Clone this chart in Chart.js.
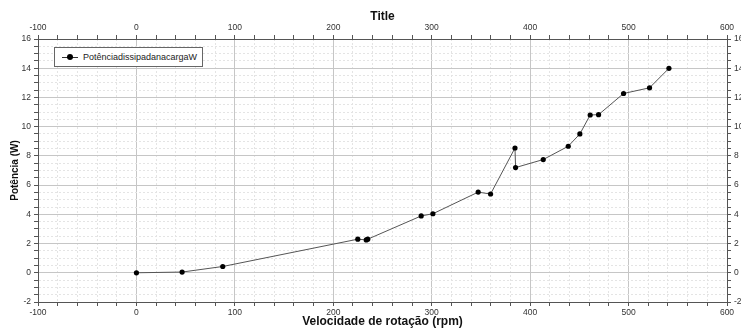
<!DOCTYPE html>
<html>
<head>
<meta charset="utf-8">
<script src="https://cdn.jsdelivr.net/npm/chart.js@4"></script>
<style>
  html, body { margin: 0; padding: 0; background: #fff; }
  #wrap { position: relative; width: 741px; height: 330px; }
  #legend {
    position: absolute; left: 54px; top: 47px; width: 147px; height: 18px;
    border: 1px solid #666; background: #fff;
    font: 9px "Liberation Sans", sans-serif; color: #222;
    display: flex; align-items: center;
  }
  #legend .mk { position: relative; width: 16px; height: 1px; background: #333; margin: 0 5px 0 7px; }
  #legend .mk::after {
    content: ""; position: absolute; left: 5px; top: -2.5px;
    width: 6px; height: 6px; border-radius: 50%; background: #000;
  }
</style>
</head>
<body>
<div id="wrap">
  <canvas id="myChart" width="741" height="330"></canvas>
  <div id="legend"><span class="mk"></span><span>PotênciadissipadanacargaW</span></div>
</div>
<script>
const seriesLabel = "PotênciadissipadanacargaW";
const rpm = [0, 46.4, 87.7, 224.9, 233.5, 235, 289.3, 301.2, 347.2, 359.8, 384.6, 385.2, 413.3, 438.7, 450.5, 461, 469.5, 494.9, 521.3, 541];
const potencia = [0, 0.05, 0.43, 2.3, 2.25, 2.3, 3.89, 4.04, 5.52, 5.39, 8.54, 7.2, 7.75, 8.66, 9.5, 10.8, 10.82, 12.27, 12.66, 13.99];
const xRange = [-100, 600];
const yRange = [-2, 16];

const tickFont = { family: "Liberation Sans", size: 8.5 };
const titleFont = { family: "Liberation Sans", size: 12, weight: "bold" };

const isMajorX = (v) => Math.abs(v % 100) < 1e-6;
const isMajorY = (v) => Math.abs(v % 2) < 1e-6;

const gridFor = (isMajor, onArea) => ({
  drawOnChartArea: onArea,
  color: (c) => (c.tick && isMajor(c.tick.value) ? "#c6c6c6" : "#e4e4e4"),
  tickColor: "#555",
  tickLength: 4,
});

const borderFor = (isMajor) => ({
  color: "#555",
  width: 1,
  dash: (c) => (c.tick && !isMajor(c.tick.value) ? [2, 2] : []),
});

const xTicks = {
  stepSize: 20,
  autoSkip: false,
  maxRotation: 0,
  font: tickFont,
  color: "#333",
  padding: 2,
  callback: (v) => (isMajorX(v) ? v : ""),
};
const yTicks = {
  stepSize: 0.5,
  autoSkip: false,
  font: tickFont,
  color: "#333",
  padding: 3,
  callback: (v) => (isMajorY(v) ? v : ""),
};

const points = rpm.map((x, i) => ({ x: x, y: potencia[i] }));

new Chart(document.getElementById("myChart"), {
  type: "scatter",
  data: {
    datasets: [
      {
        label: seriesLabel,
        data: points,
        showLine: true,
        borderColor: "#555",
        borderWidth: 1,
        pointRadius: 2.6,
        pointBackgroundColor: "#000",
        pointBorderColor: "#000",
        pointBorderWidth: 0,
        xAxisID: "x",
        yAxisID: "y",
      },
    ],
  },
  options: {
    responsive: false,
    animation: false,
    layout: { padding: 0 },
    plugins: {
      legend: { display: false },
      title: { display: false },
      tooltip: { enabled: false },
    },
    scales: {
      x: {
        type: "linear",
        position: "bottom",
        min: xRange[0],
        max: xRange[1],
        ticks: xTicks,
        grid: gridFor(isMajorX, true),
        border: borderFor(isMajorX),
        title: { display: true, text: "Velocidade de rotação (rpm)", font: titleFont, color: "#111", padding: { top: 0, bottom: 1 } },
        afterFit: (s) => { s.height = 28; },
      },
      x2: {
        type: "linear",
        position: "top",
        min: xRange[0],
        max: xRange[1],
        ticks: xTicks,
        grid: gridFor(isMajorX, false),
        border: { color: "#555", width: 1 },
        title: { display: true, text: "Title", font: titleFont, color: "#111", padding: { top: 9, bottom: 0 } },
        afterFit: (s) => { s.height = 39; },
      },
      y: {
        type: "linear",
        position: "left",
        min: yRange[0],
        max: yRange[1],
        ticks: yTicks,
        grid: gridFor(isMajorY, true),
        border: borderFor(isMajorY),
        title: { display: true, text: "Potência (W)", font: { family: "Liberation Sans", size: 10, weight: "bold" }, color: "#111", padding: { top: 9, bottom: 0 } },
        afterFit: (s) => { s.width = 38; },
      },
      y2: {
        type: "linear",
        position: "right",
        min: yRange[0],
        max: yRange[1],
        ticks: yTicks,
        grid: gridFor(isMajorY, false),
        border: { color: "#555", width: 1 },
        afterFit: (s) => { s.width = 14; },
      },
    },
  },
});
</script>
</body>
</html>
